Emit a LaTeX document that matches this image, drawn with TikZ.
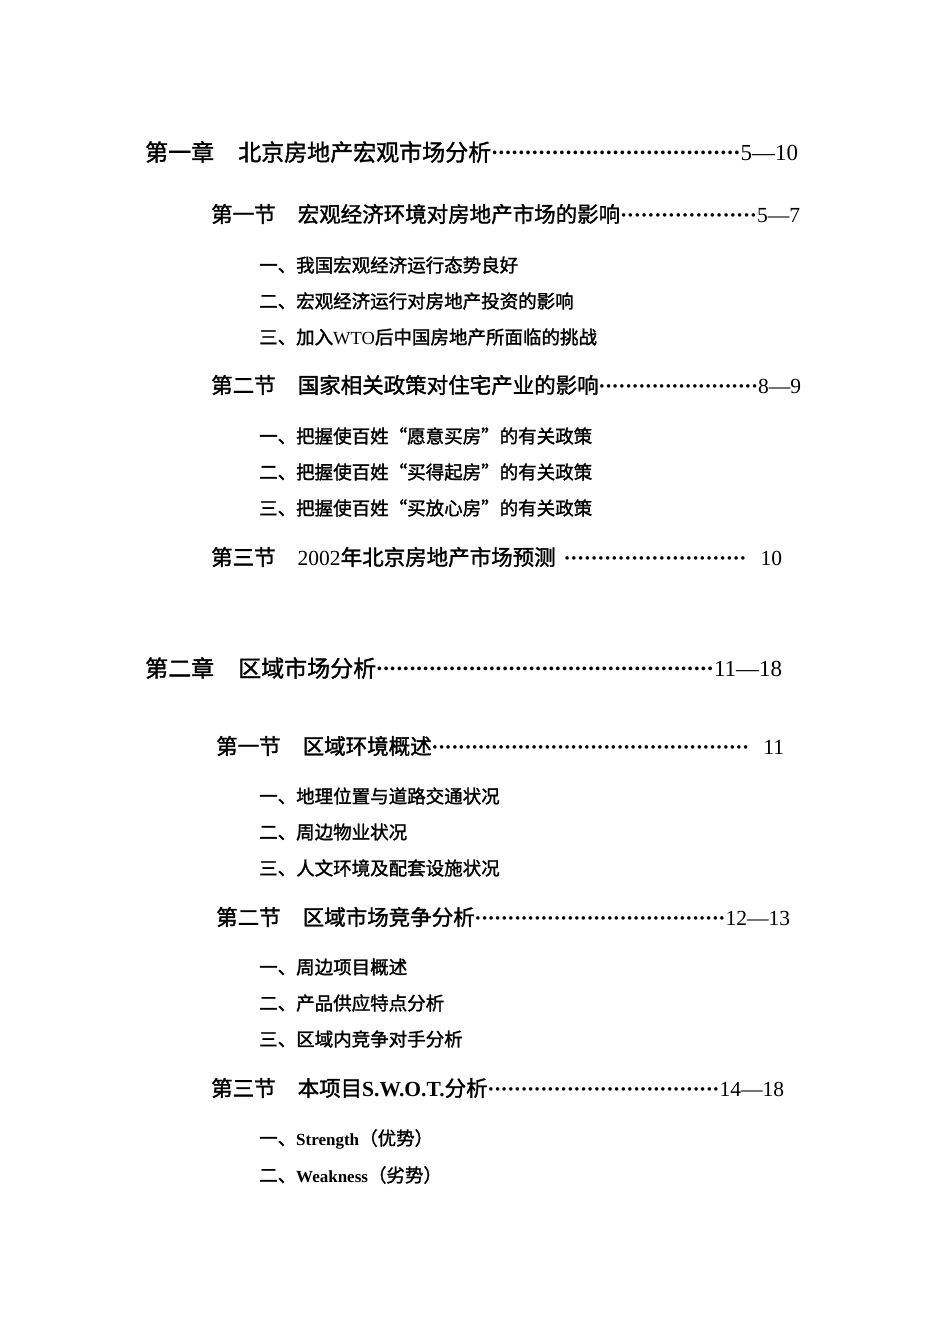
\documentclass[tikz,border=0pt]{standalone}
\usepackage{fontspec}
\setmainfont{Liberation Serif}
\newfontfamily\cjk{Noto Sans CJK SC}[AutoFakeBold=1.5]
\newcommand{\lat}[1]{{\rmfamily\mdseries #1}}
\newcommand{\dts}{\xleaders\hbox to 6.6pt{\hss\rmfamily\bfseries ·\hss}\hfill}
\newcommand{\tocline}[4]{\node[anchor=west,inner sep=0pt] (#1) at (#2) {\makebox[#3pt][l]{#4}};}
\begin{document}
\begin{tikzpicture}[x=1pt,y=-1pt]
\useasboundingbox (0,0) rectangle (950,1344);
\fill[white] (0,0) rectangle (950,1344);
\tikzset{ch/.style={font=\fontsize{23}{23}\selectfont},
 sec/.style={font=\fontsize{21.5}{22}\selectfont},
 itm/.style={font=\fontsize{18.5}{19}\selectfont}}
\begin{scope}[every node/.append style={ch}]
\tocline{c1}{145,152}{653}{\cjk\bfseries 第一章\hspace{24pt}北京房地产宏观市场分析\dts\lat{5—10}}
\tocline{c2}{145,668}{637}{\cjk\bfseries 第二章\hspace{24pt}区域市场分析\dts\lat{11—18}}
\end{scope}
\begin{scope}[every node/.append style={sec}]
\tocline{s11}{211,214}{589}{\cjk\bfseries 第一节\hspace{22pt}宏观经济环境对房地产市场的影响\dts\lat{5—7}}
\tocline{s12}{211,385}{590}{\cjk\bfseries 第二节\hspace{22pt}国家相关政策对住宅产业的影响\dts\lat{8—9}}
\tocline{s13}{211,557}{571}{\cjk\bfseries 第三节\hspace{22pt}\lat{2002}年北京房地产市场预测\hspace{8pt}\dts\hspace{14pt}\lat{10}}
\tocline{s21}{216,746}{568}{\cjk\bfseries 第一节\hspace{22pt}区域环境概述\dts\hspace{14pt}\lat{11}}
\tocline{s22}{216,917}{574}{\cjk\bfseries 第二节\hspace{22pt}区域市场竞争分析\dts\lat{12—13}}
\tocline{s23}{211,1088}{573}{\cjk\bfseries 第三节\hspace{22pt}本项目{\rmfamily\bfseries S.W.O.T.}分析\dts\lat{14—18}}
\end{scope}
\begin{scope}[every node/.append style={itm,anchor=west,inner sep=0pt}]
\node (a1) at (259,265) {\cjk\bfseries 一、我国宏观经济运行态势良好};
\node (a2) at (259,301) {\cjk\bfseries 二、宏观经济运行对房地产投资的影响};
\node (a3) at (259,337) {\cjk\bfseries 三、加入\lat{WTO}后中国房地产所面临的挑战};
\node (b1) at (259,436) {\cjk\bfseries 一、把握使百姓“愿意买房”的有关政策};
\node (b2) at (259,472) {\cjk\bfseries 二、把握使百姓“买得起房”的有关政策};
\node (b3) at (259,508) {\cjk\bfseries 三、把握使百姓“买放心房”的有关政策};
\node (d1) at (259,796) {\cjk\bfseries 一、地理位置与道路交通状况};
\node (d2) at (259,832) {\cjk\bfseries 二、周边物业状况};
\node (d3) at (259,868) {\cjk\bfseries 三、人文环境及配套设施状况};
\node (e1) at (259,967) {\cjk\bfseries 一、周边项目概述};
\node (e2) at (259,1003) {\cjk\bfseries 二、产品供应特点分析};
\node (e3) at (259,1039) {\cjk\bfseries 三、区域内竞争对手分析};
\node (f1) at (259,1139) {\cjk\bfseries 一、{\rmfamily\bfseries\fontsize{17}{17}\selectfont Strength}（优势）};
\node (f2) at (259,1175) {\cjk\bfseries 二、{\rmfamily\bfseries\fontsize{17}{17}\selectfont Weakness}（劣势）};
\end{scope}
\end{tikzpicture}
\end{document}
